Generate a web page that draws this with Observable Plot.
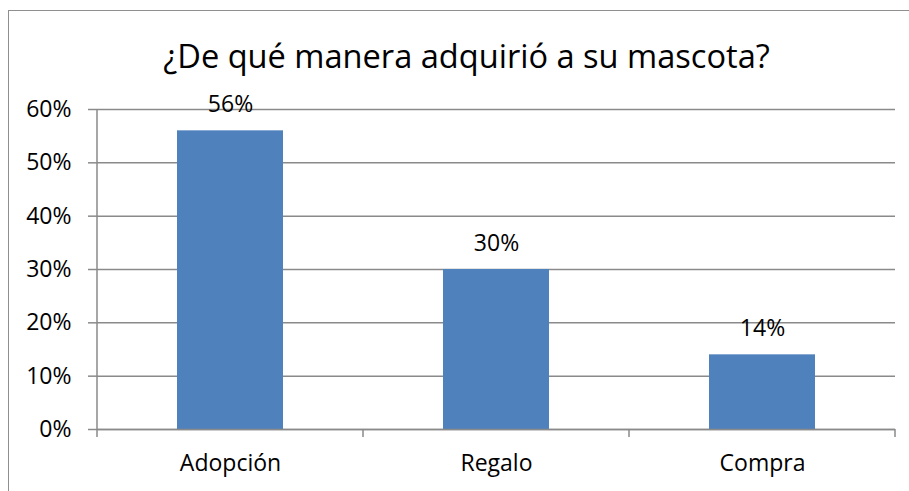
<!DOCTYPE html>
<html>
<head>
<meta charset="utf-8">
<script src="https://cdn.jsdelivr.net/npm/d3@7"></script>
<script src="https://cdn.jsdelivr.net/npm/@observablehq/plot@0.6"></script>
<style>
  html, body { margin: 0; padding: 0; background: #fff; }
  #wrap { position: relative; width: 909px; height: 491px; overflow: hidden; }
  #border { position: absolute; left: 8px; top: 10px; width: 1000px; height: 600px;
            border-left: 1.5px solid #8f8f8f; border-top: 1.5px solid #8f8f8f; pointer-events: none; }
  #chart { position: absolute; left: 0; top: 0; }
</style>
</head>
<body>
<div id="wrap"><div id="chart"></div><div id="border"></div></div>
<script>
const title = "¿De qué manera adquirió a su mascota?";
const categories = ["Adopción", "Regalo", "Compra"];
const values = [0.56, 0.30, 0.14];
const yTicks = [0, 0.1, 0.2, 0.3, 0.4, 0.5, 0.6];

const data = categories.map((c, i) => ({category: c, value: values[i]}));
const font = "'Open Sans', sans-serif";
const gridColor = "#8a8a8a";
const pct = d3.format(".0%");

const boundaryTicks = (index, scales, values, dims) => {
  const g = d3.create("svg:g").attr("stroke", gridColor).attr("stroke-width", 1.5);
  const n = categories.length;
  const x0 = dims.marginLeft, x1 = dims.width - dims.marginRight;
  const yb = dims.height - dims.marginBottom;
  const step = (x1 - x0) / n;
  g.append("line").attr("x1", x0).attr("x2", x0).attr("y1", dims.marginTop).attr("y2", yb);
  for (let i = 0; i <= n; i++) {
    const x = x0 + i * step;
    g.append("line").attr("x1", x).attr("x2", x).attr("y1", yb).attr("y2", yb + 8);
  }
  return g.node();
};

const chart = Plot.plot({
  width: 909,
  height: 491,
  marginLeft: 97,
  marginRight: 14,
  marginTop: 109,
  marginBottom: 62,
  style: {fontFamily: font, fontSize: "23px", color: "#000", background: "transparent"},
  x: {domain: categories, paddingInner: 0.6, paddingOuter: 0.3, axis: null},
  y: {domain: [0, 0.6], axis: null},
  marks: [
    Plot.gridY(yTicks, {stroke: gridColor, strokeOpacity: 1, strokeWidth: 1.5}),
    Plot.barY(data, {x: "category", y: "value", fill: "#4f81bd"}),
    Plot.ruleY([0], {stroke: gridColor, strokeWidth: 1.5}),
    Plot.axisY({ticks: yTicks, tickSize: 9, text: null, stroke: gridColor, strokeWidth: 1.5, label: null}),
    Plot.text(yTicks, {y: d => d, text: d => pct(d), frameAnchor: "left", textAnchor: "end",
                       dx: -26, fontSize: 23, fill: "#000"}),
    Plot.text(categories, {x: d => d, frameAnchor: "bottom", lineAnchor: "top", dy: 25,
                           fontSize: 23, fill: "#000"}),
    boundaryTicks,
    Plot.text(data, {x: "category", y: "value", text: d => pct(d.value),
                     lineAnchor: "bottom", dy: -19, fontSize: 23, fill: "#000"}),
    Plot.text([title], {frameAnchor: "top", dx: -30, dy: -42, lineAnchor: "bottom",
                        fontSize: 32.6, fill: "#000"})
  ]
});
document.getElementById("chart").appendChild(chart);
</script>
</body>
</html>
